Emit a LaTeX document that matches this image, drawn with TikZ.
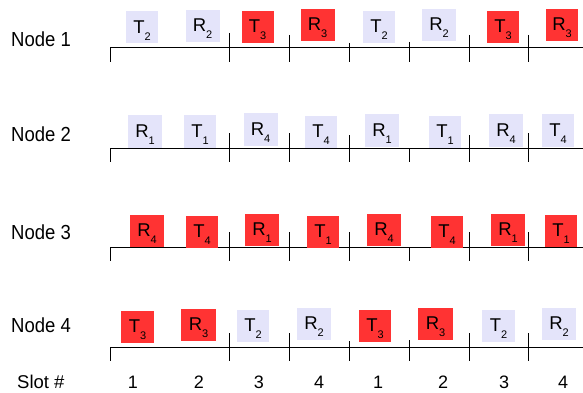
\documentclass[tikz,border=0pt]{standalone}
\usepackage{fontspec}
\setmainfont{Liberation Sans}
\definecolor{lavbg}{RGB}{228,228,250}
\definecolor{redbg}{RGB}{255,51,51}
\newcommand{\slotlbl}[2]{#1\raisebox{-7pt}{\fontsize{11}{11}\selectfont #2}}
\newcommand{\tallt}[1]{\scalebox{1}[1.1]{#1}}
\begin{document}
\begin{tikzpicture}[x=1pt,y=-1pt,
  rowlbl/.style={anchor=west,inner sep=0pt,font=\fontsize{18.5}{20}\selectfont},
  slotnum/.style={inner sep=0pt,font=\fontsize{18}{20}\selectfont},
  sbox/.style={inner sep=0pt,minimum height=32pt,text height=20pt,text depth=8.4pt,font=\fontsize{18.5}{19}\selectfont},
  tline/.style={line width=1pt,black}]
\useasboundingbox (0,0) rectangle (583,393);
% row labels
\node[rowlbl] (n1) at (11,39) {\tallt{Node 1}};
\node[rowlbl] (n2) at (11,134.5) {\tallt{Node 2}};
\node[rowlbl] (n3) at (11,232.5) {\tallt{Node 3}};
\node[rowlbl] (n4) at (11,325.5) {\tallt{Node 4}};
% timelines
\foreach \ly [count=\r] in {48,148,247,347} {
  \coordinate (ls\r) at (110,\ly);
  \coordinate (le\r) at (583,\ly);
  \draw[tline] (ls\r) -- (le\r);
}
% boxes row 1
\foreach \x/\y/\l/\s/\c/\w [count=\i] in {
  142/27.5/T/2/lavbg/32, 202.5/26/R/2/lavbg/34, 257.5/27/T/3/redbg/32, 317.5/25/R/3/redbg/34,
  379/27/T/2/lavbg/32, 439/25/R/2/lavbg/34, 503/27/T/3/redbg/32, 562/25/R/3/redbg/32}
  \node[sbox,fill=\c,minimum width=\w pt] (a\i) at (\x,\y) {\slotlbl{\l}{\s}};
% boxes row 2
\foreach \x/\y/\l/\s/\c/\w [count=\i] in {
  145/131.5/R/1/lavbg/34, 200/131.5/T/1/lavbg/32, 260.5/129.5/R/4/lavbg/34, 321/132/T/4/lavbg/32,
  382/130.5/R/1/lavbg/34, 445/132/T/1/lavbg/32, 506/130.5/R/4/lavbg/34, 558/130.5/T/4/lavbg/32}
  \node[sbox,fill=\c,minimum width=\w pt] (b\i) at (\x,\y) {\slotlbl{\l}{\s}};
% boxes row 3
\foreach \x/\y/\l/\s/\c/\w [count=\i] in {
  147/231/R/4/redbg/34, 202/231.5/T/4/redbg/32, 262/230/R/1/redbg/34, 323/231.5/T/1/redbg/32,
  384/230/R/4/redbg/34, 447/231.5/T/4/redbg/32, 508/230/R/1/redbg/34, 561/231/T/1/redbg/32}
  \node[sbox,fill=\c,minimum width=\w pt] (c\i) at (\x,\y) {\slotlbl{\l}{\s}};
% boxes row 4
\foreach \x/\y/\l/\s/\c/\w [count=\i] in {
  137.5/327/T/3/redbg/33, 198.5/325/R/3/redbg/35, 253/326/T/2/lavbg/32, 314/324/R/2/lavbg/34,
  375/326/T/3/redbg/32, 435.5/324/R/3/redbg/35, 498.5/326/T/2/lavbg/33, 559/324/R/2/lavbg/34}
  \node[sbox,fill=\c,minimum width=\w pt] (d\i) at (\x,\y) {\slotlbl{\l}{\s}};
% ticks: x / top offset above line
\foreach \ly/\ticks in {
  48/{110/0,229/15,289/13,349/5,409/6,469/13,528/13},
  148/{110/0,229/15,289/15,349/13,409/0,469/13,528/15},
  247/{110/0,229/15,289/15,349/15,409/0,469/15,528/15},
  347/{110/0,229/14,289/14,349/6,409/7,469/14,528/14}} {
  \foreach \tx/\tt in \ticks
    \draw[tline] (\tx,\ly-\tt) -- (\tx,\ly+14);
}
% slot numbers
\node[rowlbl] (sl) at (17,382) {Slot \#};
\foreach \x/\n [count=\i] in {133/1,199/2,259/3,319/4,378/1,443/2,504/3,563/4}
  \node[slotnum] (s\i) at (\x,382) {\n};
\end{tikzpicture}
\end{document}
